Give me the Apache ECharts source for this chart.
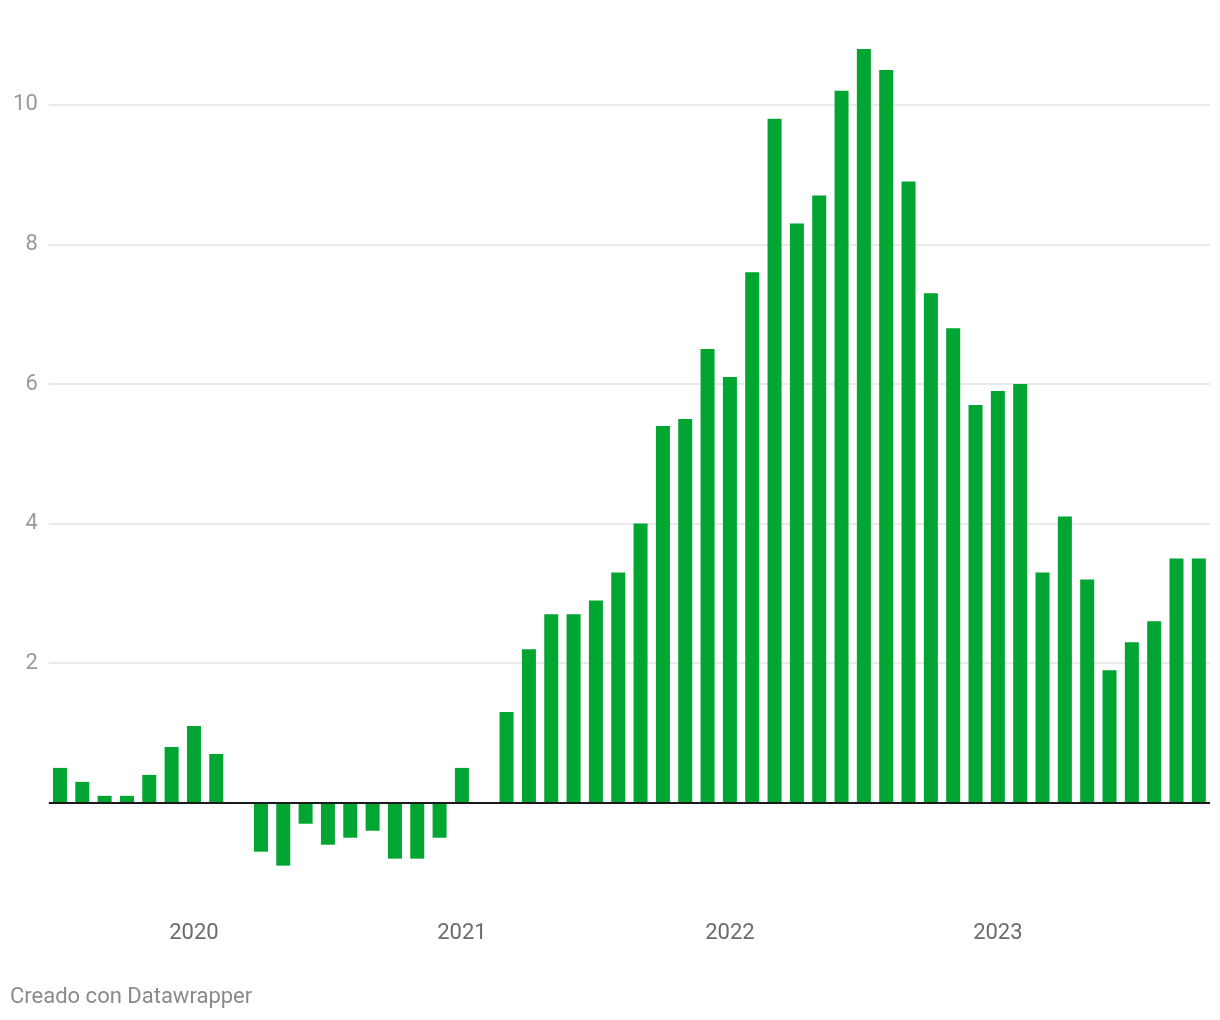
<!DOCTYPE html>
<html>
<head>
<meta charset="utf-8">
<script src="https://cdn.jsdelivr.net/npm/echarts@6/dist/echarts.min.js"></script>
<style>
  html, body { margin: 0; padding: 0; background: #ffffff; }
  #chart { width: 1220px; height: 1020px; }
</style>
</head>
<body>
<div id="chart"></div>
<script>
// Months (Jul 2019 – Oct 2023)
const months = [
  '2019-07','2019-08','2019-09','2019-10','2019-11','2019-12',
  '2020-01','2020-02','2020-03','2020-04','2020-05','2020-06','2020-07','2020-08','2020-09','2020-10','2020-11','2020-12',
  '2021-01','2021-02','2021-03','2021-04','2021-05','2021-06','2021-07','2021-08','2021-09','2021-10','2021-11','2021-12',
  '2022-01','2022-02','2022-03','2022-04','2022-05','2022-06','2022-07','2022-08','2022-09','2022-10','2022-11','2022-12',
  '2023-01','2023-02','2023-03','2023-04','2023-05','2023-06','2023-07','2023-08','2023-09','2023-10'
];
// Values (%)
const values = [
  0.5, 0.3, 0.1, 0.1, 0.4, 0.8,
  1.1, 0.7, 0.0, -0.7, -0.9, -0.3, -0.6, -0.5, -0.4, -0.8, -0.8, -0.5,
  0.5, 0.0, 1.3, 2.2, 2.7, 2.7, 2.9, 3.3, 4.0, 5.4, 5.5, 6.5,
  6.1, 7.6, 9.8, 8.3, 8.7, 10.2, 10.8, 10.5, 8.9, 7.3, 6.8, 5.7,
  5.9, 6.0, 3.3, 4.1, 3.2, 1.9, 2.3, 2.6, 3.5, 3.5
];
// Tick labels
const xTickYears = ['2020', '2021', '2022', '2023'];
const yTickValues = [2, 4, 6, 8, 10];

const chart = echarts.init(document.getElementById('chart'), null, { renderer: 'canvas' });

const isYearTick = (cat) => cat.endsWith('-01') && xTickYears.includes(cat.slice(0, 4));

chart.setOption({
  animation: false,
  backgroundColor: '#ffffff',
  textStyle: { fontFamily: 'Roboto, sans-serif' },
  grid: { left: 48.8, right: 10, top: 35, bottom: 77.6, containLabel: false },
  xAxis: {
    type: 'category',
    data: months,
    position: 'bottom',
    offset: -20,
    axisLine: { show: false, onZero: false },
    axisTick: { show: false },
    splitLine: { show: false },
    axisLabel: {
      interval: (i, cat) => isYearTick(cat),
      formatter: (cat) => isYearTick(cat) ? cat.slice(0, 4) : '',
      color: '#6b6b6b',
      fontSize: 22,
      margin: 0,
      verticalAlign: 'top'
    }
  },
  yAxis: {
    type: 'value',
    min: -2,
    max: 11,
    interval: 2,
    axisLine: { show: false },
    axisTick: { show: false },
    axisLabel: {
      formatter: (v) => yTickValues.includes(v) ? String(v) : '',
      color: '#9a9a9a',
      fontSize: 22,
      margin: 11,
      align: 'right'
    },
    splitLine: {
      show: true,
      lineStyle: {
        color: ['rgba(0,0,0,0)', 'rgba(0,0,0,0)', '#e3e3e3', '#e3e3e3', '#e3e3e3', '#e3e3e3', '#e3e3e3'],
        width: 1.5
      }
    }
  },
  series: [{
    type: 'bar',
    data: values,
    barWidth: 14,
    itemStyle: { color: '#00a532' },
    markLine: {
      silent: true,
      symbol: ['none', 'none'],
      label: { show: false },
      lineStyle: { color: '#1a1a1a', width: 2, type: 'solid' },
      data: [{ yAxis: 0 }]
    }
  }],
  graphic: [{
    type: 'text',
    left: 10,
    top: 986,
    style: {
      text: 'Creado con Datawrapper',
      fill: '#8a8a8a',
      fontSize: 22,
      fontFamily: 'Roboto, sans-serif'
    }
  }]
});
</script>
</body>
</html>
